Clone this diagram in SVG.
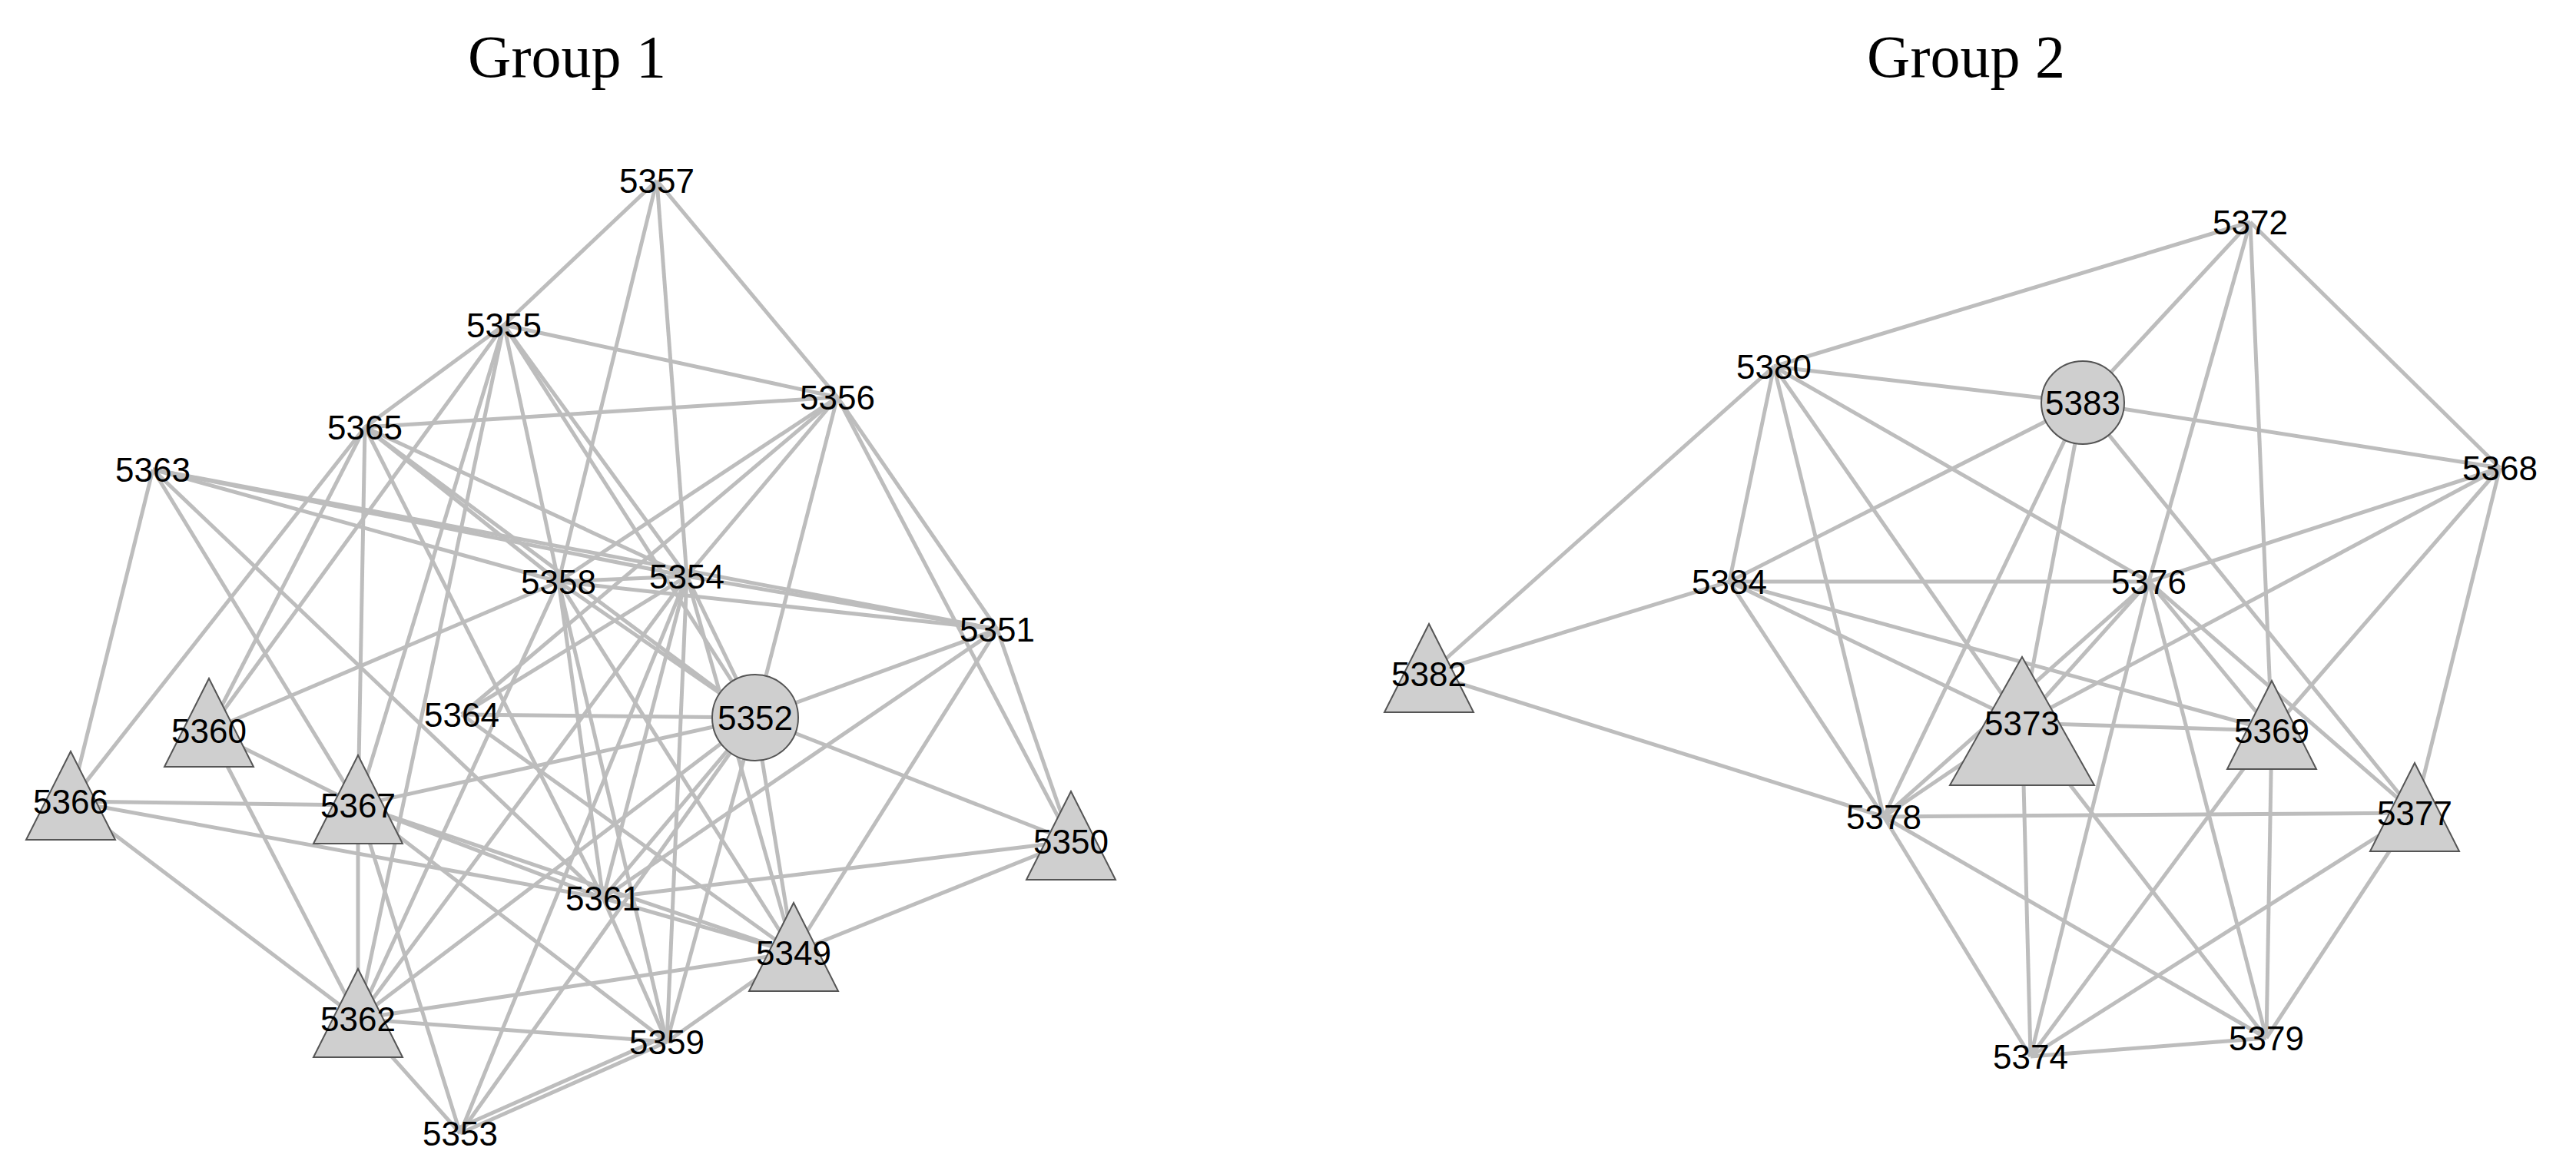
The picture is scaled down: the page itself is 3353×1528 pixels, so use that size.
<svg xmlns="http://www.w3.org/2000/svg" width="3353" height="1528" viewBox="0 0 3353 1528">
<style>
.e line{stroke:#bdbdbd;stroke-width:5}
.s{fill:#cfcfcf;stroke:#555;stroke-width:2}
.l{font-family:"Liberation Sans",Arial,sans-serif;font-size:44px;fill:#000;text-anchor:middle;dominant-baseline:central}
.t{font-family:"Liberation Serif","Times New Roman",serif;font-size:78px;fill:#000;text-anchor:middle}
</style>
<rect width="3353" height="1528" fill="#fff"/>
<text class="t" x="738" y="100">Group 1</text>
<text class="t" x="2559" y="100">Group 2</text>
<g class="e" id="connectors">
<!-- group 1 -->
<line x1="855" y1="235" x2="656" y2="423"/>
<line x1="855" y1="235" x2="1090" y2="517"/>
<line x1="855" y1="235" x2="727" y2="757"/>
<line x1="855" y1="235" x2="894" y2="750"/>
<line x1="656" y1="423" x2="1090" y2="517"/>
<line x1="656" y1="423" x2="475" y2="556"/>
<line x1="656" y1="423" x2="272" y2="951"/>
<line x1="656" y1="423" x2="466" y2="1048"/>
<line x1="656" y1="423" x2="466" y2="1326"/>
<line x1="656" y1="423" x2="727" y2="757"/>
<line x1="656" y1="423" x2="894" y2="750"/>
<line x1="656" y1="423" x2="983" y2="934"/>
<line x1="1090" y1="517" x2="475" y2="556"/>
<line x1="1090" y1="517" x2="727" y2="757"/>
<line x1="1090" y1="517" x2="894" y2="750"/>
<line x1="1090" y1="517" x2="601" y2="930"/>
<line x1="1090" y1="517" x2="983" y2="934"/>
<line x1="1090" y1="517" x2="1298" y2="819"/>
<line x1="1090" y1="517" x2="1394" y2="1095"/>
<line x1="475" y1="556" x2="727" y2="757"/>
<line x1="475" y1="556" x2="894" y2="750"/>
<line x1="475" y1="556" x2="272" y2="951"/>
<line x1="475" y1="556" x2="92" y2="1043"/>
<line x1="475" y1="556" x2="466" y2="1048"/>
<line x1="475" y1="556" x2="785" y2="1169"/>
<line x1="475" y1="556" x2="983" y2="934"/>
<line x1="199" y1="611" x2="727" y2="757"/>
<line x1="199" y1="611" x2="894" y2="750"/>
<line x1="199" y1="611" x2="1298" y2="819"/>
<line x1="199" y1="611" x2="92" y2="1043"/>
<line x1="199" y1="611" x2="466" y2="1048"/>
<line x1="199" y1="611" x2="785" y2="1169"/>
<line x1="727" y1="757" x2="894" y2="750"/>
<line x1="727" y1="757" x2="1298" y2="819"/>
<line x1="727" y1="757" x2="272" y2="951"/>
<line x1="727" y1="757" x2="983" y2="934"/>
<line x1="727" y1="757" x2="785" y2="1169"/>
<line x1="727" y1="757" x2="1033" y2="1240"/>
<line x1="727" y1="757" x2="868" y2="1356"/>
<line x1="727" y1="757" x2="466" y2="1326"/>
<line x1="894" y1="750" x2="1298" y2="819"/>
<line x1="894" y1="750" x2="983" y2="934"/>
<line x1="894" y1="750" x2="601" y2="930"/>
<line x1="894" y1="750" x2="785" y2="1169"/>
<line x1="894" y1="750" x2="1033" y2="1240"/>
<line x1="894" y1="750" x2="868" y2="1356"/>
<line x1="894" y1="750" x2="466" y2="1326"/>
<line x1="894" y1="750" x2="599" y2="1475"/>
<line x1="1298" y1="819" x2="983" y2="934"/>
<line x1="1298" y1="819" x2="1394" y2="1095"/>
<line x1="1298" y1="819" x2="1033" y2="1240"/>
<line x1="1298" y1="819" x2="785" y2="1169"/>
<line x1="983" y1="934" x2="601" y2="930"/>
<line x1="983" y1="934" x2="466" y2="1048"/>
<line x1="983" y1="934" x2="1394" y2="1095"/>
<line x1="983" y1="934" x2="1033" y2="1240"/>
<line x1="983" y1="934" x2="868" y2="1356"/>
<line x1="983" y1="934" x2="785" y2="1169"/>
<line x1="983" y1="934" x2="466" y2="1326"/>
<line x1="983" y1="934" x2="599" y2="1475"/>
<line x1="601" y1="930" x2="1033" y2="1240"/>
<line x1="272" y1="951" x2="466" y2="1048"/>
<line x1="272" y1="951" x2="466" y2="1326"/>
<line x1="92" y1="1043" x2="466" y2="1048"/>
<line x1="92" y1="1043" x2="785" y2="1169"/>
<line x1="92" y1="1043" x2="466" y2="1326"/>
<line x1="466" y1="1048" x2="785" y2="1169"/>
<line x1="466" y1="1048" x2="1033" y2="1240"/>
<line x1="466" y1="1048" x2="868" y2="1356"/>
<line x1="466" y1="1048" x2="466" y2="1326"/>
<line x1="466" y1="1048" x2="599" y2="1475"/>
<line x1="1394" y1="1095" x2="785" y2="1169"/>
<line x1="1394" y1="1095" x2="1033" y2="1240"/>
<line x1="785" y1="1169" x2="1033" y2="1240"/>
<line x1="785" y1="1169" x2="868" y2="1356"/>
<line x1="1033" y1="1240" x2="466" y2="1326"/>
<line x1="1033" y1="1240" x2="868" y2="1356"/>
<line x1="466" y1="1326" x2="868" y2="1356"/>
<line x1="466" y1="1326" x2="599" y2="1475"/>
<line x1="868" y1="1356" x2="599" y2="1475"/>
<line x1="868" y1="1348" x2="599" y2="1467"/>
<!-- group 2 -->
<line x1="2929" y1="289" x2="2309" y2="477"/>
<line x1="2929" y1="289" x2="2711" y2="524"/>
<line x1="2929" y1="289" x2="3254" y2="609"/>
<line x1="2929" y1="289" x2="2797" y2="757"/>
<line x1="2929" y1="289" x2="2957" y2="951"/>
<line x1="2309" y1="477" x2="2711" y2="524"/>
<line x1="2309" y1="477" x2="1860" y2="877"/>
<line x1="2309" y1="477" x2="2251" y2="757"/>
<line x1="2309" y1="477" x2="2452" y2="1063"/>
<line x1="2309" y1="477" x2="2632" y2="941"/>
<line x1="2309" y1="477" x2="2797" y2="757"/>
<line x1="2711" y1="524" x2="3254" y2="609"/>
<line x1="2711" y1="524" x2="2251" y2="757"/>
<line x1="2711" y1="524" x2="2632" y2="941"/>
<line x1="2711" y1="524" x2="2452" y2="1063"/>
<line x1="2711" y1="524" x2="3143" y2="1058"/>
<line x1="3254" y1="609" x2="2797" y2="757"/>
<line x1="3254" y1="609" x2="2632" y2="941"/>
<line x1="3254" y1="609" x2="2957" y2="951"/>
<line x1="3254" y1="609" x2="3143" y2="1058"/>
<line x1="2251" y1="757" x2="1860" y2="877"/>
<line x1="2251" y1="757" x2="2797" y2="757"/>
<line x1="2251" y1="757" x2="2632" y2="941"/>
<line x1="2251" y1="757" x2="2957" y2="951"/>
<line x1="2251" y1="757" x2="2452" y2="1063"/>
<line x1="2797" y1="757" x2="2632" y2="941"/>
<line x1="2797" y1="757" x2="2452" y2="1063"/>
<line x1="2797" y1="757" x2="2957" y2="951"/>
<line x1="2797" y1="757" x2="3143" y2="1058"/>
<line x1="2797" y1="757" x2="2643" y2="1375"/>
<line x1="2797" y1="757" x2="2950" y2="1351"/>
<line x1="1860" y1="877" x2="2452" y2="1063"/>
<line x1="2632" y1="941" x2="2957" y2="951"/>
<line x1="2632" y1="941" x2="2452" y2="1063"/>
<line x1="2632" y1="941" x2="2643" y2="1375"/>
<line x1="2632" y1="941" x2="2950" y2="1351"/>
<line x1="2957" y1="951" x2="2950" y2="1351"/>
<line x1="2957" y1="951" x2="2643" y2="1375"/>
<line x1="2452" y1="1063" x2="3143" y2="1058"/>
<line x1="2452" y1="1063" x2="2643" y2="1375"/>
<line x1="2452" y1="1063" x2="2950" y2="1351"/>
<line x1="3143" y1="1058" x2="2643" y2="1375"/>
<line x1="3143" y1="1058" x2="2950" y2="1351"/>
<line x1="2643" y1="1375" x2="2950" y2="1351"/>
</g>
<!-- group 1 nodes -->
<g id="n5357"><text class="l" x="855" y="235">5357</text></g>
<g id="n5355"><text class="l" x="656" y="423">5355</text></g>
<g id="n5356"><text class="l" x="1090" y="517">5356</text></g>
<g id="n5365"><text class="l" x="475" y="556">5365</text></g>
<g id="n5363"><text class="l" x="199" y="611">5363</text></g>
<g id="n5358"><text class="l" x="727" y="757">5358</text></g>
<g id="n5354"><text class="l" x="894" y="750">5354</text></g>
<g id="n5351"><text class="l" x="1298" y="819">5351</text></g>
<g id="n5352"><circle class="s" cx="983" cy="934" r="56"/><text class="l" x="983" y="934">5352</text></g>
<g id="n5364"><text class="l" x="601" y="930">5364</text></g>
<g id="n5360"><polygon class="s" points="272,883 214,998 330,998"/><text class="l" x="272" y="951">5360</text></g>
<g id="n5366"><polygon class="s" points="92,978 34,1093 150,1093"/><text class="l" x="92" y="1043">5366</text></g>
<g id="n5367"><polygon class="s" points="466,983 408,1098 524,1098"/><text class="l" x="466" y="1048">5367</text></g>
<g id="n5350"><polygon class="s" points="1394,1030 1336,1145 1452,1145"/><text class="l" x="1394" y="1095">5350</text></g>
<g id="n5361"><text class="l" x="785" y="1169">5361</text></g>
<g id="n5349"><polygon class="s" points="1033,1175 975,1290 1091,1290"/><text class="l" x="1033" y="1240">5349</text></g>
<g id="n5362"><polygon class="s" points="466,1261 408,1376 524,1376"/><text class="l" x="466" y="1326">5362</text></g>
<g id="n5359"><text class="l" x="868" y="1356">5359</text></g>
<g id="n5353"><text class="l" x="599" y="1475">5353</text></g>
<!-- group 2 nodes -->
<g id="n5372"><text class="l" x="2929" y="289">5372</text></g>
<g id="n5380"><text class="l" x="2309" y="477">5380</text></g>
<g id="n5383"><circle class="s" cx="2711" cy="524" r="54"/><text class="l" x="2711" y="524">5383</text></g>
<g id="n5368"><text class="l" x="3254" y="609">5368</text></g>
<g id="n5384"><text class="l" x="2251" y="757">5384</text></g>
<g id="n5376"><text class="l" x="2797" y="757">5376</text></g>
<g id="n5382"><polygon class="s" points="1860,812 1802,927 1918,927"/><text class="l" x="1860" y="877">5382</text></g>
<g id="n5373"><polygon class="s" points="2632,855 2538,1022 2726,1022"/><text class="l" x="2632" y="941">5373</text></g>
<g id="n5369"><polygon class="s" points="2957,886 2899,1001 3015,1001"/><text class="l" x="2957" y="951">5369</text></g>
<g id="n5378"><text class="l" x="2452" y="1063">5378</text></g>
<g id="n5377"><polygon class="s" points="3143,993 3085,1108 3201,1108"/><text class="l" x="3143" y="1058">5377</text></g>
<g id="n5374"><text class="l" x="2643" y="1375">5374</text></g>
<g id="n5379"><text class="l" x="2950" y="1351">5379</text></g>
</svg>
